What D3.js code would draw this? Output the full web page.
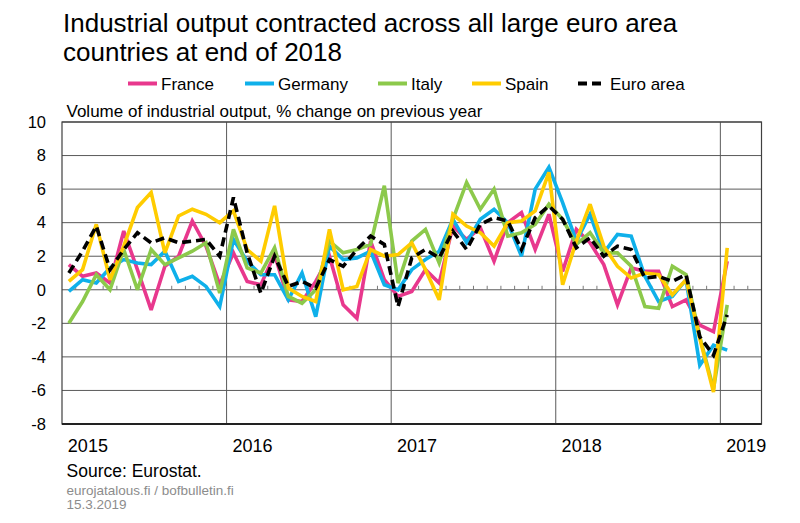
<!DOCTYPE html>
<html><head><meta charset="utf-8">
<script src="https://cdn.jsdelivr.net/npm/d3@7"></script>
<style>
body{margin:0;background:#fff;}
text{font-family:"Liberation Sans",Arial,sans-serif;fill:#000;}
</style></head><body>
<svg id="chart" width="800" height="523"></svg>
<script>
// ---- data: monthly, Jan 2015 .. Jan 2019 (49 months) ----
const months = d3.timeMonth.range(new Date(2015,0,1), new Date(2019,1,1)).map(d3.timeFormat("%Y-%m"));
const yearLabels = ["2015","2016","2017","2018","2019"];
const yTicks = [-8,-6,-4,-2,0,2,4,6,8,10];
const seriesNames = ["France","Germany","Italy","Spain","Euro area"];

const france = [1.5,0.8,1.0,0.4,3.5,1.2,-1.2,1.4,2.0,4.1,2.6,0.3,
                2.2,0.5,0.3,2.1,-0.6,-0.7,0.5,2.0,-0.9,-1.7,2.9,0.6,
                -0.4,-0.1,1.2,0.4,3.8,3.0,3.7,1.7,4.0,4.6,2.4,4.5,
                1.1,3.6,2.8,1.5,-0.9,1.3,1.1,1.1,-1.0,-0.6,-2.1,-2.5,
                1.7];
const germany = [-0.1,0.6,0.4,1.3,1.8,1.6,1.5,2.3,0.5,0.8,0.2,-1.0,
                 3.0,1.7,0.9,0.9,-0.6,1.0,-1.6,2.6,1.8,1.9,2.3,0.3,
                 0.0,1.2,1.8,2.3,4.2,2.8,4.2,4.8,4.0,2.0,6.0,7.3,
                 5.2,2.9,4.5,2.2,3.3,3.2,0.8,-0.7,-0.4,0.6,-4.5,-3.3,
                 -3.6];
const italy = [-2.0,-0.7,0.9,0.0,2.4,0.0,2.4,1.5,1.9,2.3,2.8,-0.2,
               3.6,1.3,1.0,2.5,-0.4,-0.8,0.0,2.9,2.2,2.4,2.7,6.2,
               0.4,2.9,3.6,1.6,4.2,6.4,4.8,6.0,3.2,3.4,3.9,5.1,
               4.2,2.7,3.4,2.2,2.2,1.4,-1.0,-1.1,1.4,0.9,-2.8,-5.9,
               -0.9];
const spain = [0.5,1.2,3.9,0.6,2.6,4.9,5.8,2.2,4.4,4.8,4.5,4.0,
               4.7,2.4,1.7,5.0,0.1,-0.4,-0.7,3.6,0.0,0.2,2.4,2.0,
               2.1,2.8,1.2,-0.6,4.5,3.8,3.4,2.6,4.0,4.1,4.7,7.0,
               0.3,2.9,5.1,2.6,1.4,0.7,1.0,0.9,-0.3,0.6,-2.9,-6.1,
               2.5];
const euroArea = [1.0,2.3,3.8,1.2,2.4,3.4,2.8,3.1,2.8,2.9,3.0,2.0,
                  5.5,2.2,-0.2,2.0,0.2,0.5,0.1,1.8,1.4,2.4,3.2,2.7,
                  -1.0,1.9,2.4,1.9,3.5,2.4,3.9,4.3,4.1,2.4,4.3,5.0,
                  4.2,2.5,3.1,2.0,2.6,2.4,0.7,0.8,0.5,0.9,-2.8,-3.9,
                  -1.5];

const seriesValues = [france, germany, italy, spain, euroArea];
const colors = ["#e8388d","#0fb0ea","#8cc94b","#ffcc00","#000000"];

// ---- layout ----
const svg = d3.select("#chart");
const L = 62, R = 761.5, T = 122, B = 424;
const x = d3.scaleLinear().domain([0, 51]).range([L, R]);
const y = d3.scaleLinear().domain([-8, 10]).range([B, T]);

// title
svg.append("text").attr("x",63).attr("y",32).attr("font-size",26)
  .text("Industrial output contracted across all large euro area");
svg.append("text").attr("x",63).attr("y",61).attr("font-size",26)
  .text("countries at end of 2018");

// legend
const legX = [128, 245, 378, 472, 578];
const leg = svg.append("g");
seriesNames.forEach((n,i)=>{
  const g = leg.append("g");
  if (i < 4) {
    g.append("line").attr("x1",legX[i]).attr("x2",legX[i]+29).attr("y1",83.5).attr("y2",83.5)
     .attr("stroke",colors[i]).attr("stroke-width",4);
    g.append("text").attr("x",legX[i]+33).attr("y",89.5).attr("font-size",17).text(n);
  } else {
    g.append("line").attr("x1",legX[i]).attr("x2",legX[i]+23).attr("y1",83.5).attr("y2",83.5)
     .attr("stroke","#000").attr("stroke-width",4).attr("stroke-dasharray","9,5");
    g.append("text").attr("x",legX[i]+32).attr("y",89.5).attr("font-size",17).text(n);
  }
});

// subtitle
svg.append("text").attr("x",66.5).attr("y",116.5).attr("font-size",17)
  .text("Volume of industrial output, % change on previous year");

// gridlines
svg.append("g").selectAll("line").data(yTicks).join("line")
  .attr("x1",L).attr("x2",R).attr("y1",d=>y(d)).attr("y2",d=>y(d))
  .attr("stroke","#5a5a5a").attr("stroke-width",1);

// year lines
svg.append("g").selectAll("line").data([12,24,36,48]).join("line")
  .attr("x1",d=>x(d)).attr("x2",d=>x(d)).attr("y1",T).attr("y2",B)
  .attr("stroke","#5a5a5a").attr("stroke-width",1);

// month ticks on zero line
svg.append("g").selectAll("line").data(d3.range(1,51)).join("line")
  .attr("x1",d=>x(d)).attr("x2",d=>x(d)).attr("y1",y(0)-4).attr("y2",y(0))
  .attr("stroke","#7a7a7a").attr("stroke-width",1);

// frame
svg.append("rect").attr("x",L).attr("y",T).attr("width",R-L).attr("height",B-T)
  .attr("fill","none").attr("stroke","#404040").attr("stroke-width",1.2);
svg.append("line").attr("x1",L).attr("x2",R).attr("y1",B).attr("y2",B)
  .attr("stroke","#222").attr("stroke-width",2);

// y axis labels
const yAxis = d3.axisLeft(y).tickValues(yTicks).tickSize(0).tickPadding(16).tickFormat(d => String(d));
const ya = svg.append("g").attr("transform",`translate(${L},0)`).call(yAxis);
ya.select(".domain").remove();
ya.selectAll("text").attr("font-size",16.5).attr("font-family","Liberation Sans, Arial, sans-serif").attr("fill","#000");

// x axis labels
const xAxis = d3.axisBottom(x).tickValues([0,12,24,36,48].map(v=>v+1.85)).tickSize(0).tickPadding(0)
  .tickFormat((d,i)=>yearLabels[i]);
const xa = svg.append("g").attr("transform",`translate(0,${B})`).call(xAxis);
xa.select(".domain").remove();
xa.selectAll("text").attr("font-size",18).attr("font-family","Liberation Sans, Arial, sans-serif")
  .attr("fill","#000").attr("dy",null).attr("y",27.5);

// series lines
const line = d3.line().x((d,i)=>x(i+0.5)).y(d=>y(d));
seriesValues.forEach((vals,i)=>{
  svg.append("path").datum(vals).attr("d",line)
    .attr("fill","none").attr("stroke",colors[i]).attr("stroke-width",3.6)
    .attr("stroke-linejoin","miter").attr("stroke-miterlimit",3)
    .attr("stroke-dasharray", i===4 ? "9,5" : null);
});

// footer
svg.append("text").attr("x",66.5).attr("y",476.5).attr("font-size",17.5).text("Source: Eurostat.");
svg.append("text").attr("x",66.5).attr("y",494.5).attr("font-size",13.5).style("fill","#8c8c8c")
  .text("eurojatalous.fi / bofbulletin.fi");
svg.append("text").attr("x",66.5).attr("y",509).attr("font-size",13.5).style("fill","#8c8c8c")
  .text("15.3.2019");
</script>
</body></html>
